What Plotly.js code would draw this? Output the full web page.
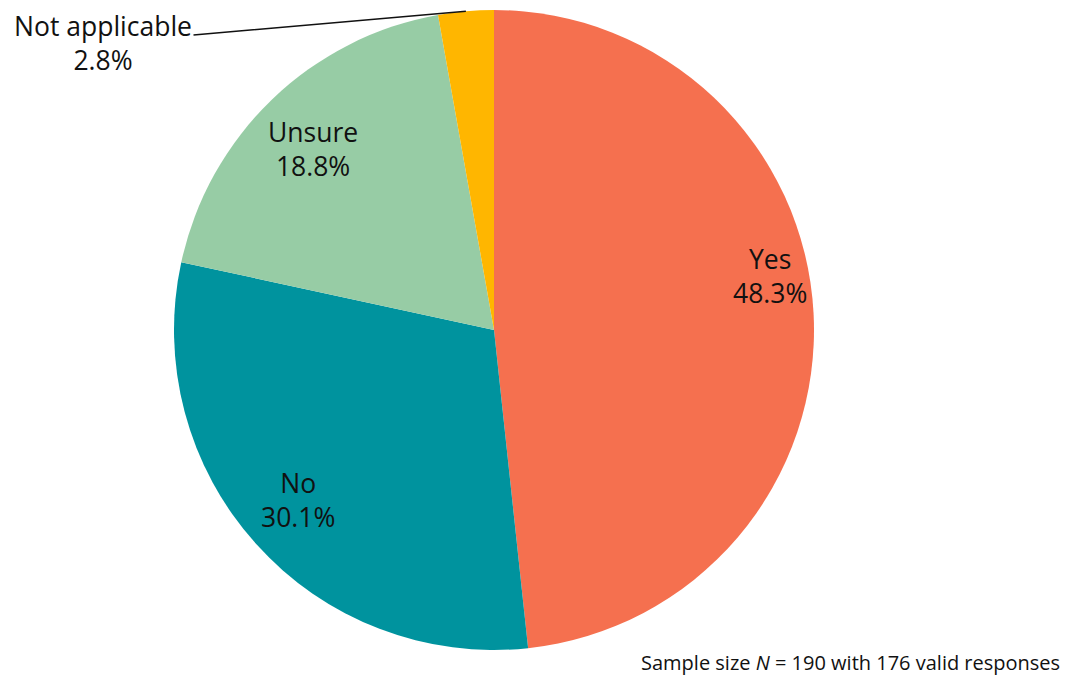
<!DOCTYPE html>
<html><head><meta charset="utf-8">
<script src="https://cdn.plot.ly/plotly-3.0.1.min.js"></script>
<style>html,body{margin:0;padding:0;background:#fff}#c{width:1070px;height:675px}</style>
</head><body><div id="c"></div>
<script>
const categories = ["Yes", "No", "Unsure", "Not applicable"];
const shares = [48.3, 30.1, 18.8, 2.8];
const colors = ["#F5704F", "#00939E", "#97CCA5", "#FFB600"];
const footnote = "Sample size <i>N</i> = 190 with 176 valid responses";

const W = 1070, H = 675;
const cx = 494, cy = 330, R = 320;
const font = "'Open Sans', sans-serif";

// label positions derived from slice mid-angles
const total = shares.reduce((a,b)=>a+b,0);
let cum = 0;
const annotations = [];
const nudges = [-8, 1, -1, 0];      // degrees, label placement tweak
const radial = [0.88, 0.81, 0.80, 1]; // fraction of radius for label centre
shares.forEach((v,i)=>{
  const mid = (cum + v/2)/total*360;
  cum += v;
  const th = (mid + nudges[i]) * Math.PI/180;
  const txt = categories[i] + "<br>" + v.toFixed(1) + "%";
  if (i < 3) {
    const r = radial[i]*R;
    const px = cx + r*Math.sin(th), py = cy - r*Math.cos(th);
    annotations.push({x: px/W, y: 1-py/H, xref:"paper", yref:"paper", text: txt,
      showarrow:false, font:{family:font, size:26.5, color:"#111"}, xanchor:"center", yanchor:"middle", align:"center"});
  } else {
    const px = cx + R*Math.sin(th), py = cy - R*Math.cos(th);
    annotations.push({x: px/W, y: 1-py/H, xref:"paper", yref:"paper", text: txt,
      showarrow:true, arrowhead:0, arrowwidth:1.5, arrowcolor:"#111", standoff:0,
      ax: 103-px, ay: 43-py, axref:"pixel", ayref:"pixel",
      font:{family:font, size:26.5, color:"#111"}, align:"center"});
  }
});
annotations.push({x:1062/W, y:1-662/H, xref:"paper", yref:"paper", text: footnote, showarrow:false,
  xanchor:"right", yanchor:"middle", font:{family:font, size:20, color:"#111"}});

Plotly.newPlot("c", [{
  type:"pie", labels: categories, values: shares, sort:false, direction:"clockwise", rotation:0,
  marker:{colors: colors, line:{width:0}}, textinfo:"none", hoverinfo:"label+percent",
  domain:{x:[(cx-R)/W,(cx+R)/W], y:[1-(cy+R)/H, 1-(cy-R)/H]}
}], {
  width:W, height:H, margin:{l:0,r:0,t:0,b:0}, showlegend:false,
  paper_bgcolor:"#fff", annotations: annotations
}, {displayModeBar:false, staticPlot:true});
</script></body></html>
